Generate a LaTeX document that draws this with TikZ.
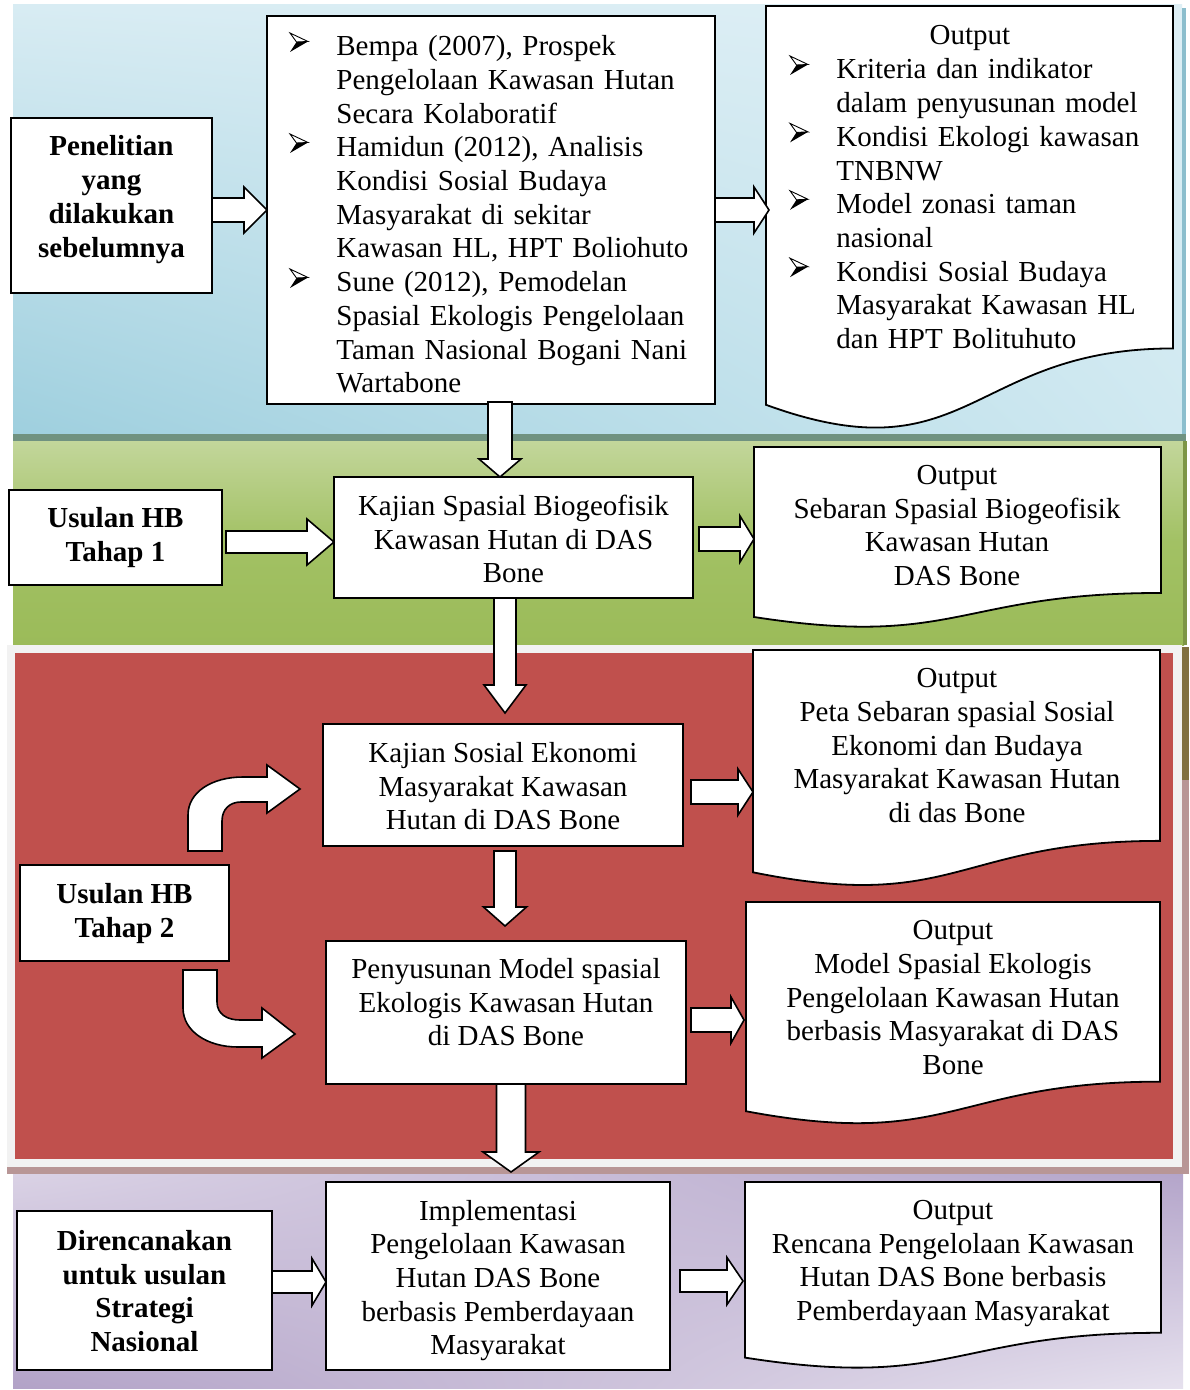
\documentclass[tikz,border=0pt]{standalone}
\usepackage{fontspec}
\setmainfont{Liberation Serif}
\usetikzlibrary{calc,shadings}
\definecolor{blueUL}{RGB}{216,236,243}
\definecolor{blueLL}{RGB}{158,207,222}
\definecolor{blueUR}{RGB}{222,239,245}
\definecolor{blueLR}{RGB}{208,233,241}
\definecolor{greenT}{RGB}{196,215,157}
\definecolor{greenM}{RGB}{162,193,100}
\definecolor{greenB}{RGB}{155,187,89}
\definecolor{redband}{RGB}{192,80,77}
\definecolor{frameg}{RGB}{242,242,242}
\definecolor{purUL}{RGB}{218,210,229}
\definecolor{purLL}{RGB}{178,162,199}
\definecolor{purUR}{RGB}{180,165,202}
\definecolor{purLR}{RGB}{230,225,238}
\definecolor{shadowA}{RGB}{112,146,128}
\definecolor{shadowB}{RGB}{140,190,205}
\definecolor{shadowC}{RGB}{125,150,70}
\definecolor{shadowD}{RGB}{128,112,64}
\definecolor{shadowE}{RGB}{184,150,150}
\newcommand\myind{\hspace*{23pt}}
\newcommand\mybox[5]{\node[rbox, minimum width={#4*0.5pt}, minimum height={#5*0.5pt}] (#1) at (#2,#3) {};}
\newcommand\mydoc[5]{\node[docbox, minimum width={#4*0.5pt}, minimum height={#5*0.5pt}] (#1) at (#2,#3) {};
  \draw[docline] (#1.north west) -- (#1.north east) -- ($(#1.north east)!0.802!(#1.south east)$)
    .. controls ($(#1.north)!0.802!(#1.south)$) and ($(#1.north)!1.1075!(#1.south)$) .. ($(#1.north west)!0.934!(#1.south west)$) -- cycle;}
% right block arrow: tail, tip, shaft half, head half, head length (px)
\newcommand\rarr[5]{\draw[barrow] let \p1=#1, \p2=#2 in
  (\x1,{\y1+#3*0.5pt}) -- ({\x2-#5*0.5pt},{\y1+#3*0.5pt}) -- ({\x2-#5*0.5pt},{\y1+#4*0.5pt}) -- (\x2,\y1)
  -- ({\x2-#5*0.5pt},{\y1-#4*0.5pt}) -- ({\x2-#5*0.5pt},{\y1-#3*0.5pt}) -- (\x1,{\y1-#3*0.5pt}) -- cycle;}
% down block arrow
\newcommand\darr[5]{\draw[barrow] let \p1=#1, \p2=#2 in
  ({\x1-#3*0.5pt},\y1) -- ({\x1-#3*0.5pt},{\y2+#5*0.5pt}) -- ({\x1-#4*0.5pt},{\y2+#5*0.5pt}) -- (\x1,\y2)
  -- ({\x1+#4*0.5pt},{\y2+#5*0.5pt}) -- ({\x1+#3*0.5pt},{\y2+#5*0.5pt}) -- ({\x1+#3*0.5pt},\y1) -- cycle;}
\begin{document}
\begin{tikzpicture}[x=0.5pt,y=-0.5pt,
  rbox/.style={draw=black, line width=0.9pt, fill=white, rectangle, inner sep=0pt, outer sep=0pt, anchor=north west},
  docbox/.style={rectangle, inner sep=0pt, outer sep=0pt, anchor=north west},
  docline/.style={draw=black, line width=0.9pt, fill=white, line join=miter},
  barrow/.style={draw=black, line width=0.8pt, fill=white, line join=miter},
  tnorm/.style={inner sep=0pt, align=center, yshift=-2.5pt, font=\fontsize{14.5}{16.85}\selectfont,
     execute at begin node=\strut, execute at end node=\strut},
  tbold/.style={tnorm, font=\fontsize{14.5}{16.85}\selectfont\bfseries},
  tlist/.style={tnorm, align=left, text width=240pt, anchor=west},
  bul/.pic={\draw[line width=0.45pt, fill=white, line join=miter] (0,-19) -- (18,-10.5) -- (6.5,-10) -- cycle;
            \fill[black] (6.5,-10) -- (18,-10.5) -- (0,0) -- cycle;}]
\useasboundingbox (0,0) rectangle (1189,1390);
\fill[white] (0,0) rectangle (1189,1390);
% ---------- bands ----------
\shade[top color=greenT, bottom color=greenB, middle color=greenM] (13,437) rectangle (1184,645);
\shade[shading=bilinear interpolation, upper left=blueUL, lower left=blueLL, upper right=blueUR, lower right=blueLR] (13,5) rectangle (1182,437);
\fill[shadowB] (1182,8) rectangle (1186,441);
\fill[shadowA] (13,434) rectangle (1186,441);
\fill[shadowC] (1183,441) rectangle (1187,645);
\fill[frameg] (7,645) rectangle (1182,1167);
\fill[redband] (15,653) rectangle (1173,1159);
\fill[shadowD] (1182,647) rectangle (1189,780);
\fill[shadowE] (1182,780) rectangle (1189,1174);
\fill[shadowE] (7,1167) rectangle (1182,1174);
\shade[shading=bilinear interpolation, upper left=purUL, lower left=purLL, upper right=purUR, lower right=purLR] (13,1174) rectangle (1183,1388);
% ---------- boxes ----------
\mybox{P}{11}{118}{201}{175}
\mybox{L}{267}{16}{448}{388}
\mydoc{O1}{766}{6}{407}{427}
\mybox{H1}{9}{490}{213}{95}
\mybox{K}{334}{477}{359}{121}
\mydoc{O2}{754}{447}{407}{182}
\mybox{S}{323}{724}{360}{122}
\mydoc{O3}{753}{650}{407}{238}
\mybox{H2}{20}{865}{209}{96}
\mybox{M}{326}{941}{360}{143}
\mydoc{O4}{746}{902}{414}{224}
\mybox{D}{17}{1211}{255}{159}
\mybox{I}{326}{1182}{344}{188}
\mydoc{O5}{745}{1182}{416}{188}
% ---------- block arrows ----------
\rarr{(P.east |- L.west)}{(L.west)}{12}{23}{23}
\rarr{(L.east)}{($(O1.west)+(3,0)$)}{12}{23}{15}
\darr{($(L.south)+(9,-2)$)}{(K.north)}{12}{21}{18}
\rarr{($(H1.east)+(4,4.5)$)}{(K.west)}{11}{23}{27}
\rarr{($(K.east)+(6,1.5)$)}{(O2.west)}{12}{23}{14}
\darr{($(K.south)+(-8.5,0)$)}{($(S.north)+(0,-11)$)}{11}{21}{28}
\rarr{($(S.east)+(8,7)$)}{(O3.west)}{12}{23}{15}
\darr{($(S.south)+(2,5)$)}{($(M.north)+(0,-15)$)}{11}{21.5}{19}
\rarr{($(M.east)+(5,7.5)$)}{($(O4.west)+(-2,0)$)}{12}{23}{13}
\darr{($(M.south)+(5,0)$)}{($(I.north)+(0,-10)$)}{14.5}{28}{20}
\rarr{($(D.east)+(0,-8.5)$)}{(I.west)}{11}{23.5}{14}
\rarr{($(I.east)+(10,5)$)}{($(O5.west)+(-2,0)$)}{11}{23.5}{16}
% curved arrows from Usulan HB Tahap 2
\coordinate (cu) at (188,851);
\coordinate (cd) at (183,970);
\draw[barrow] (cu) -- (188,815) .. controls (188,792) and (212,777) .. (243,777) -- (267,777) -- (267,765)
  -- (300,789) -- (267,813) -- (267,802) -- (241,802) .. controls (230,802) and (222,809) .. (222,821) -- (222,851) -- cycle;
\draw[barrow] (cd) -- (183,1008) .. controls (183,1031) and (207,1047) .. (238,1047) -- (262,1047) -- (262,1058)
  -- (295,1034) -- (262,1008) -- (262,1020) -- (240,1020) .. controls (227,1020) and (217,1014) .. (217,1002) -- (217,970) -- cycle;
% ---------- list bullets ----------
\pic (bl1) at (290,52) {bul};
\pic (bl2) at (290,153) {bul};
\pic (bl3) at (290,288) {bul};
\pic (bo1) at (790,75) {bul};
\pic (bo2) at (790,142.4) {bul};
\pic (bo3) at (790,209.8) {bul};
\pic (bo4) at (790,277.2) {bul};
% ---------- texts ----------
\node[tbold] (Pt) at (111.5,196.5) {Penelitian\\yang\\dilakukan\\sebelumnya};
\node[tlist] (Lt) at (290,212.5) {\myind Bempa (2007), Prospek\\
\myind Pengelolaan Kawasan Hutan\\
\myind Secara Kolaboratif\\
\myind Hamidun (2012), Analisis\\
\myind Kondisi Sosial Budaya\\
\myind Masyarakat di sekitar\\
\myind Kawasan HL, HPT Boliohuto\\
\myind Sune (2012), Pemodelan\\
\myind Spasial Ekologis Pengelolaan\\
\myind Taman Nasional Bogani Nani\\
\myind Wartabone};
\node[tnorm] (O1h) at (970,33) {Output};
\node[tlist] (O1t) at (790,202) {\myind Kriteria dan indikator\\
\myind dalam penyusunan model\\
\myind Kondisi Ekologi kawasan\\
\myind TNBNW\\
\myind Model zonasi taman\\
\myind nasional\\
\myind Kondisi Sosial Budaya\\
\myind Masyarakat Kawasan HL\\
\myind dan HPT Bolituhuto};
\node[tbold] (H1t) at (115.5,534.5) {Usulan HB\\Tahap 1};
\node[tnorm] (Kt) at (513.5,539) {Kajian Spasial Biogeofisik\\Kawasan Hutan di DAS\\Bone};
\node[tnorm] (O2t) at (957,525.5) {Output\\Sebaran Spasial Biogeofisik\\Kawasan Hutan\\DAS Bone};
\node[tnorm] (St) at (503,786) {Kajian Sosial Ekonomi\\Masyarakat Kawasan\\Hutan di DAS Bone};
\node[tnorm] (O3t) at (957,745.5) {Output\\Peta Sebaran spasial Sosial\\Ekonomi dan Budaya\\Masyarakat Kawasan Hutan\\di das Bone};
\node[tbold] (H2t) at (124.5,910.5) {Usulan HB\\Tahap 2};
\node[tnorm] (Mt) at (506,1002) {Penyusunan Model spasial\\Ekologis Kawasan Hutan\\di DAS Bone};
\node[tnorm] (O4t) at (953,997.5) {Output\\Model Spasial Ekologis\\Pengelolaan Kawasan Hutan\\berbasis Masyarakat di DAS\\Bone};
\node[tbold] (Dt) at (144.5,1291) {Direncanakan\\untuk usulan\\Strategi\\Nasional};
\node[tnorm] (It) at (498,1277.5) {Implementasi\\Pengelolaan Kawasan\\Hutan DAS Bone\\berbasis Pemberdayaan\\Masyarakat};
\node[tnorm] (O5t) at (953,1260.5) {Output\\Rencana Pengelolaan Kawasan\\Hutan DAS Bone berbasis\\Pemberdayaan Masyarakat};
\end{tikzpicture}
\end{document}
